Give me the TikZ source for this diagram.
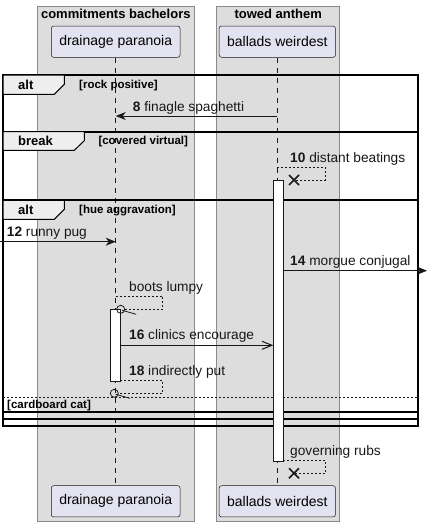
\documentclass[tikz,border=0pt]{standalone}
\usepackage{fontspec}
\setmainfont{Liberation Sans}
\usetikzlibrary{arrows.meta,positioning,calc}
\definecolor{groupfill}{HTML}{DDDDDD}
\definecolor{groupline}{HTML}{8A8A8A}
\definecolor{partfill}{HTML}{E2E2F0}
\definecolor{ink}{HTML}{181818}
\definecolor{tabfill}{HTML}{EEEEEE}

\begin{document}
\begin{tikzpicture}[x=1pt,y=-1pt,
  partbox/.style={draw=ink,line width=0.5pt,fill=partfill,rounded corners=2.5pt,inner xsep=8pt,minimum height=31.3pt,font=\fontsize{14}{16}\selectfont},
  grouptitle/.style={font=\fontsize{13}{15}\selectfont\bfseries,anchor=base,inner sep=0pt},
  msglabel/.style={font=\fontsize{13.7}{15}\selectfont,anchor=base west,inner sep=0pt,text=ink},
  condlabel/.style={font=\fontsize{11.5}{13}\selectfont\bfseries,anchor=base west,inner sep=0pt},
  framebox/.style={line width=2pt},
  tabshape/.style={fill=tabfill,draw,line width=1pt},
  msgline/.style={draw=ink,line width=1pt,-{Stealth[length=10pt,width=8pt,inset=3pt]}},
  openline/.style={draw=ink,line width=1pt,-{Straight Barb[length=10pt,width=8pt]}},
  selfline/.style={draw=ink,line width=0.8pt,dash pattern=on 2pt off 2pt},
  actbar/.style={fill=white,draw=ink,line width=1pt},
  killmark/.style={draw=ink,line width=1.6pt}]
\useasboundingbox (0,0) rectangle (427,527);

\fill[groupfill] (37.3,6) rectangle (194.3,521.7);
\draw[groupline,line width=0.8pt] (37.3,6) rectangle (194.3,521.7);
\fill[groupfill] (216.7,6) rectangle (339.7,521.7);
\draw[groupline,line width=0.8pt] (216.7,6) rectangle (339.7,521.7);
\node[grouptitle] (cb) at (115.8,18.3) {commitments bachelors};
\node[grouptitle] (ta) at (278.2,18.3) {towed anthem};

\node[partbox] (dp) at (115.7,41.7) {drainage paranoia};
\node[partbox] (bw) at (277.3,41.7) {ballads weirdest};
\node[partbox] (dp2) at (115.7,501.3) {drainage paranoia};
\node[partbox] (bw2) at (277.3,501.3) {ballads weirdest};
\draw[ink,line width=0.6pt,dash pattern=on 5pt off 5pt] (dp.south) -- (dp2.north);
\draw[ink,line width=0.6pt,dash pattern=on 5pt off 5pt] (bw.south) -- (bw2.north);

\draw[framebox] (3,75) rectangle (417.7,425.7);
\draw[framebox] (3,131.7) rectangle (417.7,418.8);
\draw[framebox] (3,200.3) rectangle (417.7,412.3);
\draw[ink,line width=0.8pt,dash pattern=on 2pt off 2pt] (3,397.3) -- (417.7,397.3);
\draw[tabshape] (3,75) -- (64.3,75) -- (64.3,84.3) -- (54.3,94.3) -- (3,94.3) -- cycle;
\draw[tabshape] (3,131.7) -- (84.3,131.7) -- (84.3,140.7) -- (74.3,150.3) -- (3,150.3) -- cycle;
\draw[tabshape] (3,200.3) -- (64.3,200.3) -- (64.3,209.3) -- (54.3,219.3) -- (3,219.3) -- cycle;
\node[condlabel,font=\fontsize{13}{15}\selectfont\bfseries] (alt1) at (18,89.7) {alt};
\node[condlabel] (c1) at (79,88.5) {[rock positive]};
\node[condlabel,font=\fontsize{13}{15}\selectfont\bfseries] (brk) at (18,145.7) {break};
\node[condlabel] (c2) at (98.3,144.5) {[covered virtual]};
\node[condlabel,font=\fontsize{13}{15}\selectfont\bfseries] (alt2) at (18,214.7) {alt};
\node[condlabel] (c3) at (79,213.5) {[hue aggravation]};
\node[condlabel] (c4) at (7,408.7) {[cardboard cat]};

\draw[actbar] (273.3,180.7) rectangle (283.3,461.7);
\draw[actbar] (110.7,309.3) rectangle (120.3,381.3);

\coordinate (bw8) at (277.3,116);
\coordinate (dp8) at (115.7,116);
\draw[msgline] (bw8) -- (dp8);
\node[msglabel] (m8) at (132.7,111) {\textbf{8} finagle spaghetti};

\coordinate (bw10) at (277.3,167.7);
\coordinate (x10) at (294,180);
\draw[selfline] (bw10) -- (325.7,167.7) |- (x10);
\draw[killmark] ($(x10)+(-5,-5)$) -- ($(x10)+(5,5)$) ($(x10)+(-5,5)$) -- ($(x10)+(5,-5)$);
\node[msglabel] (m10) at (290,162.3) {\textbf{10} distant beatings};

\coordinate (lft12) at (0,241.7);
\coordinate (dp12) at (115.7,241.7);
\draw[msgline] (lft12) -- (dp12);
\node[msglabel] (m12) at (6.7,236.3) {\textbf{12} runny pug};

\coordinate (bw14) at (283.3,270.7);
\coordinate (rgt14) at (427,270.7);
\draw[msgline] (bw14) -- (rgt14);
\node[msglabel] (m14) at (290,265.3) {\textbf{14} morgue conjugal};

\coordinate (dpb) at (115.7,296.3);
\coordinate (ob) at (120.7,309.3);
\draw[selfline] (dpb) -- (162.7,296.3) |- ([xshift=4pt]ob);
\draw[ink,line width=0.8pt] (ob) circle (4);
\draw[ink,line width=0.8pt] ([xshift=1.5pt,yshift=-1pt]ob) -- ++(14,4);
\node[msglabel] (mb) at (129,291) {boots lumpy};

\coordinate (dp16) at (120.3,345.3);
\coordinate (bw16) at (273.3,345.3);
\draw[openline] (dp16) -- (bw16);
\node[msglabel] (m16) at (129,339.7) {\textbf{16} clinics encourage};

\coordinate (dp18) at (120.3,380.3);
\coordinate (o18) at (114.3,393.3);
\draw[selfline] (dp18) -- (162.7,380.3) |- ([xshift=4pt]o18);
\draw[ink,line width=0.8pt] (o18) circle (4);
\draw[ink,line width=0.8pt] ([xshift=1.5pt,yshift=-1pt]o18) -- ++(14,4);
\node[msglabel] (m18) at (129,375) {\textbf{18} indirectly put};

\coordinate (bwg) at (283.3,460.7);
\coordinate (xg) at (294,473.3);
\draw[selfline] (bwg) -- (325.7,460.7) |- (xg);
\draw[killmark] ($(xg)+(-5,-5)$) -- ($(xg)+(5,5)$) ($(xg)+(-5,5)$) -- ($(xg)+(5,-5)$);
\node[msglabel] (mg) at (290,455.3) {governing rubs};
\end{tikzpicture}
\end{document}
